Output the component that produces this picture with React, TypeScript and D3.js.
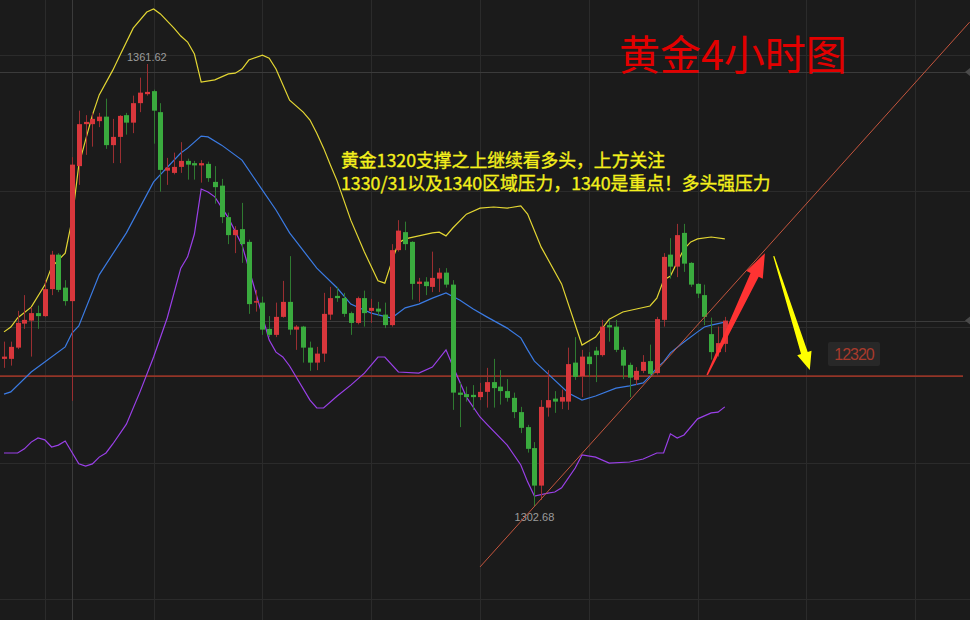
import React from 'react';
import * as d3 from 'd3';

const WIDTH = 970;
const HEIGHT = 620;

// 4-hour gold candles (oldest first)
const opens = [
  1322.3, 1322.3, 1323.8, 1327.0, 1327.4, 1328.4, 1328.0, 1331.6, 1336.2, 1331.8,
  1330.0, 1348.0, 1353.6, 1353.6, 1354.0, 1354.6, 1350.8, 1351.9, 1354.8, 1353.8,
  1356.4, 1357.6, 1358.0, 1355.2, 1347.4, 1347.1, 1347.9, 1348.7, 1348.4, 1348.1,
  1348.3, 1345.9, 1345.4, 1341.2, 1338.8, 1339.6, 1337.9, 1329.8, 1329.8, 1326.3,
  1325.5, 1327.9, 1329.9, 1326.2, 1326.6, 1323.8, 1321.8, 1323.0, 1328.2, 1330.7,
  1330.4, 1328.4, 1327.1, 1330.4, 1328.7, 1329.0, 1328.2, 1326.8, 1336.8, 1339.2,
  1337.9, 1332.3, 1332.6, 1331.9, 1333.0, 1333.8, 1332.2, 1317.8, 1317.6, 1317.5,
  1317.2, 1317.9, 1319.2, 1318.6, 1318.0, 1317.1, 1315.2, 1313.2, 1310.4, 1305.4,
  1315.8, 1317.0, 1316.6, 1316.6, 1321.8, 1320.0, 1322.6, 1323.4, 1322.8, 1326.8,
  1326.6, 1323.5, 1321.5, 1319.5, 1320.7, 1322.0, 1320.4, 1327.5, 1336.2, 1334.6,
  1339.1, 1335.1, 1332.3, 1330.8, 1325.6, 1323.2, 1324.3,
];
const highs = [
  1324.6, 1324.6, 1328.7, 1330.8, 1329.2, 1329.4, 1332.8, 1336.7, 1336.4, 1332.8,
  1349.2, 1355.4, 1354.8, 1355.1, 1355.1, 1357.0, 1354.3, 1354.8, 1355.1, 1357.4,
  1359.8, 1361.62, 1358.2, 1356.4, 1349.1, 1349.8, 1351.2, 1349.0, 1348.7, 1348.8,
  1348.6, 1348.0, 1346.3, 1341.8, 1340.0, 1343.1, 1338.2, 1331.5, 1330.6, 1328.0,
  1329.8, 1332.7, 1336.0, 1326.8, 1326.7, 1324.6, 1323.9, 1331.1, 1331.9, 1331.9,
  1331.1, 1328.6, 1330.6, 1331.4, 1330.3, 1329.9, 1329.8, 1337.6, 1340.8, 1340.6,
  1338.0, 1333.1, 1333.2, 1336.6, 1334.4, 1334.4, 1332.8, 1319.1, 1318.6, 1318.8,
  1319.1, 1321.1, 1322.3, 1320.8, 1319.6, 1317.8, 1315.9, 1313.5, 1311.2, 1316.8,
  1320.8, 1318.0, 1318.2, 1323.8, 1325.2, 1323.5, 1323.2, 1323.9, 1327.5, 1327.5,
  1327.5, 1323.9, 1321.8, 1321.2, 1322.8, 1324.2, 1327.9, 1336.4, 1338.4, 1340.3,
  1340.3, 1335.2, 1332.4, 1332.2, 1327.8, 1326.6, 1327.9,
];
const lows = [
  1321.1, 1321.4, 1323.6, 1326.3, 1322.6, 1326.3, 1327.9, 1330.8, 1331.2, 1329.4,
  1316.7, 1345.5, 1349.5, 1350.6, 1353.2, 1350.3, 1348.4, 1348.4, 1352.2, 1352.4,
  1355.2, 1357.4, 1351.0, 1344.6, 1345.5, 1346.9, 1347.1, 1346.2, 1346.2, 1345.8,
  1345.9, 1343.0, 1340.4, 1337.6, 1336.4, 1335.1, 1328.3, 1328.6, 1325.5, 1325.2,
  1325.2, 1327.8, 1325.5, 1323.5, 1321.8, 1320.7, 1320.8, 1321.9, 1327.5, 1329.9,
  1327.9, 1325.5, 1326.9, 1326.6, 1327.1, 1328.0, 1326.4, 1326.6, 1336.6, 1336.8,
  1330.2, 1329.9, 1330.8, 1331.2, 1331.2, 1331.8, 1315.5, 1313.2, 1316.6, 1315.5,
  1316.8, 1315.8, 1315.8, 1316.2, 1316.6, 1314.4, 1312.4, 1309.8, 1302.68, 1303.5,
  1314.6, 1315.1, 1315.6, 1315.5, 1319.5, 1317.2, 1319.9, 1319.2, 1322.6, 1324.6,
  1323.2, 1319.6, 1317.2, 1318.8, 1320.4, 1320.0, 1320.2, 1326.6, 1333.0, 1333.2,
  1333.9, 1331.9, 1330.4, 1326.8, 1322.2, 1322.6, 1323.2,
];
const closes = [
  1322.6, 1323.9, 1327.1, 1327.5, 1328.4, 1328.0, 1331.6, 1336.2, 1331.5, 1330.0,
  1348.2, 1353.6, 1353.9, 1354.3, 1354.6, 1350.8, 1351.9, 1354.7, 1353.8, 1356.4,
  1357.8, 1357.9, 1355.4, 1347.5, 1347.8, 1347.9, 1348.7, 1348.2, 1348.1, 1348.4,
  1346.4, 1345.2, 1341.2, 1338.8, 1339.5, 1337.6, 1329.6, 1330.0, 1326.2, 1325.5,
  1327.9, 1329.9, 1326.2, 1326.6, 1323.8, 1321.8, 1323.0, 1328.3, 1330.4, 1330.4,
  1328.3, 1327.1, 1330.4, 1328.4, 1329.1, 1328.6, 1326.8, 1336.8, 1339.4, 1337.6,
  1332.3, 1332.6, 1332.0, 1333.1, 1333.8, 1332.2, 1317.8, 1317.5, 1317.2, 1317.2,
  1317.9, 1319.2, 1318.4, 1318.0, 1317.1, 1315.2, 1313.1, 1310.3, 1305.4, 1315.9,
  1316.8, 1316.6, 1317.2, 1321.6, 1319.9, 1322.6, 1321.6, 1322.8, 1326.6, 1326.5,
  1323.5, 1321.4, 1319.8, 1320.7, 1321.9, 1320.3, 1327.6, 1335.9, 1334.6, 1338.8,
  1335.0, 1332.2, 1331.0, 1327.9, 1323.2, 1324.4, 1327.4,
];

// Bollinger bands as [candle index, price]
const upperBand: [number, number][] = [
  [0, 1325.9], [1, 1326.55], [2, 1327.75], [4, 1329.2], [6, 1332.15], [7, 1334.55], [9, 1336.4],
  [10, 1340.8], [11, 1348.15], [12, 1351.5], [13, 1354.8], [14, 1357.5], [16, 1360.8], [17, 1362.7],
  [19, 1366.4], [21, 1368.55], [22, 1368.95], [23, 1368.3], [25, 1366.4], [26, 1365.35], [27, 1364.55],
  [28, 1362.95], [29, 1359.2], [31, 1359.5], [33, 1360.3], [34, 1360.4], [35, 1360.95], [36, 1362.15],
  [38, 1362.8], [39, 1362.4], [40, 1360.95], [42, 1356.8], [44, 1355.2], [45, 1354.15], [46, 1352.4],
  [47, 1350.4], [48, 1348.15], [49, 1346.0], [51, 1340.8], [53, 1336.55], [55, 1332.7], [56, 1332.4],
  [57, 1335.2], [58, 1337.75], [59, 1338.3], [61, 1338.7], [63, 1339.1], [64, 1339.2], [65, 1338.7],
  [66, 1339.75], [68, 1341.6], [70, 1342.4], [72, 1342.55], [74, 1342.4], [76, 1342.7], [77, 1341.6],
  [79, 1337.2], [82, 1332.3], [85, 1324.15], [87, 1325.2], [89, 1327.6], [91, 1328.55], [93, 1328.95],
  [95, 1329.35], [96, 1330.4], [97, 1332.8], [98, 1333.35], [99, 1335.2], [100, 1336.95], [101, 1337.9],
  [102, 1338.3], [104, 1338.55], [106, 1338.3],
];
const middleBand: [number, number][] = [
  [0, 1317.6], [1, 1317.9], [4, 1320.55], [9, 1323.9], [10, 1325.75], [11, 1326.7], [14, 1333.5],
  [18, 1339.1], [22, 1345.9], [26, 1349.75], [27, 1350.4], [29, 1352.0], [30, 1351.9], [32, 1350.8],
  [35, 1348.8], [38, 1344.8], [40, 1342.15], [42, 1339.1], [46, 1334.4], [49, 1331.75], [51, 1329.6],
  [54, 1328.4], [57, 1327.75], [59, 1329.1], [61, 1329.6], [63, 1330.4], [65, 1331.1], [67, 1330.15],
  [69, 1328.95], [71, 1327.9], [74, 1326.4], [76, 1325.1], [77, 1323.5], [78, 1322.0], [80, 1320.3],
  [83, 1317.75], [85, 1316.8], [87, 1317.35], [90, 1318.4], [92, 1318.7], [94, 1319.1], [95, 1320.0],
  [96, 1321.1], [97, 1321.9], [98, 1323.1], [100, 1324.55], [102, 1325.9], [103, 1326.55], [104, 1326.8],
  [106, 1327.2],
];
const lowerBand: [number, number][] = [
  [0, 1309.75], [2, 1309.75], [3, 1310.3], [4, 1311.2], [5, 1311.75], [6, 1311.5], [7, 1310.55],
  [8, 1310.8], [9, 1311.35], [11, 1308.3], [12, 1308.0], [13, 1308.3], [14, 1309.2], [15, 1309.75],
  [16, 1310.95], [18, 1313.6], [20, 1317.9], [22, 1322.55], [24, 1327.75], [26, 1334.4], [27, 1335.9],
  [28, 1338.95], [29, 1344.95], [30, 1344.55], [31, 1343.9], [33, 1341.1], [35, 1337.5], [37, 1331.2],
  [39, 1324.8], [40, 1323.2], [41, 1322.55], [42, 1321.35], [45, 1316.8], [46, 1315.75], [47, 1315.75],
  [49, 1317.35], [51, 1318.8], [53, 1320.4], [55, 1322.55], [56, 1322.55], [58, 1320.55], [61, 1320.4],
  [63, 1321.2], [65, 1323.5], [66, 1321.35], [68, 1317.2], [70, 1314.55], [71, 1313.6], [74, 1310.8],
  [76, 1308.15], [77, 1305.9], [78, 1304.0], [80, 1304.4], [81, 1304.55], [82, 1305.1], [84, 1307.75],
  [85, 1309.5], [87, 1309.2], [89, 1308.4], [92, 1308.55], [94, 1308.95], [96, 1309.75], [97, 1309.75],
  [98, 1312.3], [99, 1311.75], [100, 1312.15], [102, 1314.3], [104, 1315.1], [105, 1315.2], [106, 1315.9],
];

// Price grid and time grid
const gridPrices = [1362.8, 1344.7, 1326.55, 1308.4, 1290.3];
const gridIndices = [6, 22, 38, 54, 70, 86, 102, 118, 134];

// Cursor position
const crosshairIndex = 10;
const crosshairPrice = 1360.55;

// Annotations
const supportLevel = 1320;
const supportLabel = '12320';
const supportLabelAt: [number, number] = [125, 1322.95];
const trendLine: [number, number][] = [[70, 1294.55], [142, 1367.2]];
const upArrow: [number, number][] = [[103.4, 1320.15], [111.9, 1336.4]];
const downArrow: [number, number][] = [[113.2, 1336.0], [118.5, 1320.8]];
const title = '黄金4小时图';
const noteLines = [
  '黄金1320支撑之上继续看多头，上方关注',
  '1330/31以及1340区域压力，1340是重点！多头强压力',
];

const UP = '#d8373c';
const UP_WICK = '#9a2e31';
const DOWN = '#3aab3e';
const DOWN_WICK = '#2f7a31';

function arrowPath(
  x0: number, y0: number, x1: number, y1: number,
  wTail: number, wShaft: number, headLen: number, headW: number,
) {
  const dx = x1 - x0;
  const dy = y1 - y0;
  const len = Math.hypot(dx, dy);
  const ux = dx / len;
  const uy = dy / len;
  const nx = -uy;
  const ny = ux;
  const bx = x1 - ux * headLen;
  const by = y1 - uy * headLen;
  const pts: [number, number][] = [
    [x0 + nx * wTail, y0 + ny * wTail],
    [bx + nx * wShaft, by + ny * wShaft],
    [bx + nx * headW, by + ny * headW],
    [x1, y1],
    [bx - nx * headW, by - ny * headW],
    [bx - nx * wShaft, by - ny * wShaft],
    [x0 - nx * wTail, y0 - ny * wTail],
  ];
  return (d3.line()(pts) || '') + 'Z';
}

export default function App() {
  const x = d3.scaleLinear().domain([0, 106]).range([4, 724.8]);
  const y = d3.scaleLinear().domain([1302.68, 1361.62]).range([506, 64]);

  const bandLine = d3
    .line<[number, number]>()
    .x((d) => x(d[0]))
    .y((d) => y(d[1]));

  const hiIdx = d3.maxIndex(highs);
  const loIdx = d3.minIndex(lows);
  const lastClose = closes[closes.length - 1];

  const [ua, ub] = upArrow.map(([i, p]) => [x(i), y(p)]);
  const [da, db] = downArrow.map(([i, p]) => [x(i), y(p)]);

  const sans = '"Liberation Sans", Arial, sans-serif';
  const cjk = '"Noto Sans CJK SC", "Noto Sans", sans-serif';

  return (
    <div style={{ position: 'fixed', left: 0, top: 0, width: WIDTH, height: HEIGHT }}>
      <svg width={WIDTH} height={HEIGHT} style={{ display: 'block' }}>
        <rect width={WIDTH} height={HEIGHT} fill="#1b1b1b" />

        {/* grid */}
        <g stroke="#2b2b2b" strokeWidth={1}>
          {gridPrices.map((p) => (
            <line key={'h' + p} x1={0} x2={WIDTH} y1={Math.round(y(p)) + 0.5} y2={Math.round(y(p)) + 0.5} />
          ))}
          {gridIndices.map((i) => (
            <line key={'v' + i} y1={0} y2={HEIGHT} x1={Math.round(x(i)) + 0.5} x2={Math.round(x(i)) + 0.5} />
          ))}
        </g>

        {/* cursor and last price lines */}
        <g stroke="#3b3b3b" strokeWidth={1}>
          <line x1={Math.round(x(crosshairIndex)) + 0.5} x2={Math.round(x(crosshairIndex)) + 0.5} y1={0} y2={HEIGHT} />
          <line x1={0} x2={WIDTH} y1={Math.round(y(crosshairPrice)) + 0.5} y2={Math.round(y(crosshairPrice)) + 0.5} />
          <line x1={0} x2={WIDTH} y1={Math.round(y(lastClose)) + 0.5} y2={Math.round(y(lastClose)) + 0.5} />
        </g>
        {[crosshairPrice, lastClose].map((p) => (
          <path
            key={'m' + p}
            d={`M${WIDTH - 5},${y(p)} L${WIDTH},${y(p) - 4} L${WIDTH},${y(p) + 4} Z`}
            fill="#4a4a4a"
          />
        ))}

        {/* support level */}
        <line
          x1={0}
          x2={963}
          y1={y(supportLevel)}
          y2={y(supportLevel)}
          stroke="#933527"
          strokeWidth={1.6}
        />

        {/* Bollinger bands */}
        <path d={bandLine(upperBand) || ''} fill="none" stroke="#e3d633" strokeWidth={1.2} />
        <path d={bandLine(middleBand) || ''} fill="none" stroke="#3b7be3" strokeWidth={1.2} />
        <path d={bandLine(lowerBand) || ''} fill="none" stroke="#9a40e8" strokeWidth={1.2} />

        {/* candles */}
        <g>
          {opens.map((o, i) => {
            const c = closes[i];
            const up = c >= o;
            const cx = Math.round(x(i));
            const top = y(Math.max(o, c));
            const bot = y(Math.min(o, c));
            return (
              <g key={i}>
                <line
                  x1={cx + 0.5}
                  x2={cx + 0.5}
                  y1={y(highs[i])}
                  y2={y(lows[i])}
                  stroke={up ? UP_WICK : DOWN_WICK}
                  strokeWidth={1}
                />
                <rect
                  x={cx - 2}
                  y={top}
                  width={5}
                  height={Math.max(1.5, bot - top)}
                  fill={up ? UP : DOWN}
                />
              </g>
            );
          })}
        </g>

        {/* extreme labels */}
        <text
          x={x(hiIdx)}
          y={y(highs[hiIdx]) - 3}
          textAnchor="middle"
          fontFamily={sans}
          fontSize={11}
          fill="#9c9c9c"
        >
          {highs[hiIdx].toFixed(2)}
        </text>
        <text
          x={x(loIdx)}
          y={y(lows[loIdx]) + 15}
          textAnchor="middle"
          fontFamily={sans}
          fontSize={11}
          fill="#9c9c9c"
        >
          {lows[loIdx].toFixed(2)}
        </text>

        {/* trend line */}
        <line
          x1={x(trendLine[0][0])}
          y1={y(trendLine[0][1])}
          x2={x(trendLine[1][0])}
          y2={y(trendLine[1][1])}
          stroke="#c4553d"
          strokeWidth={1}
        />

        {/* arrows */}
        <path d={arrowPath(ua[0], ua[1], ub[0], ub[1], 0.8, 4.5, 24, 9)} fill="#ff3333" />
        <path d={arrowPath(da[0], da[1], db[0], db[1], 0.6, 3.5, 18, 7.5)} fill="#ffff00" />

        {/* support value tag */}
        <rect
          x={x(supportLabelAt[0]) - 26}
          y={y(supportLabelAt[1]) - 12}
          width={52}
          height={24}
          rx={2}
          fill="#282828"
        />
        <text
          x={x(supportLabelAt[0])}
          y={y(supportLabelAt[1]) + 6}
          textAnchor="middle"
          fontFamily={sans}
          fontSize={16}
          letterSpacing={-1}
          fill="#a83a2c"
        >
          {supportLabel}
        </text>

        {/* notes */}
        {noteLines.map((t, k) => (
          <text
            key={k}
            x={341}
            y={167 + k * 22.5}
            fontFamily={cjk}
            fontSize={17.8}
            fill="#f4f01c"
            stroke="#f4f01c"
            strokeWidth={0.35}
          >
            {t}
          </text>
        ))}

        <text x={619} y={70} fontFamily={cjk} fontSize={41} fill="#e20000">
          {title}
        </text>
      </svg>
    </div>
  );
}
